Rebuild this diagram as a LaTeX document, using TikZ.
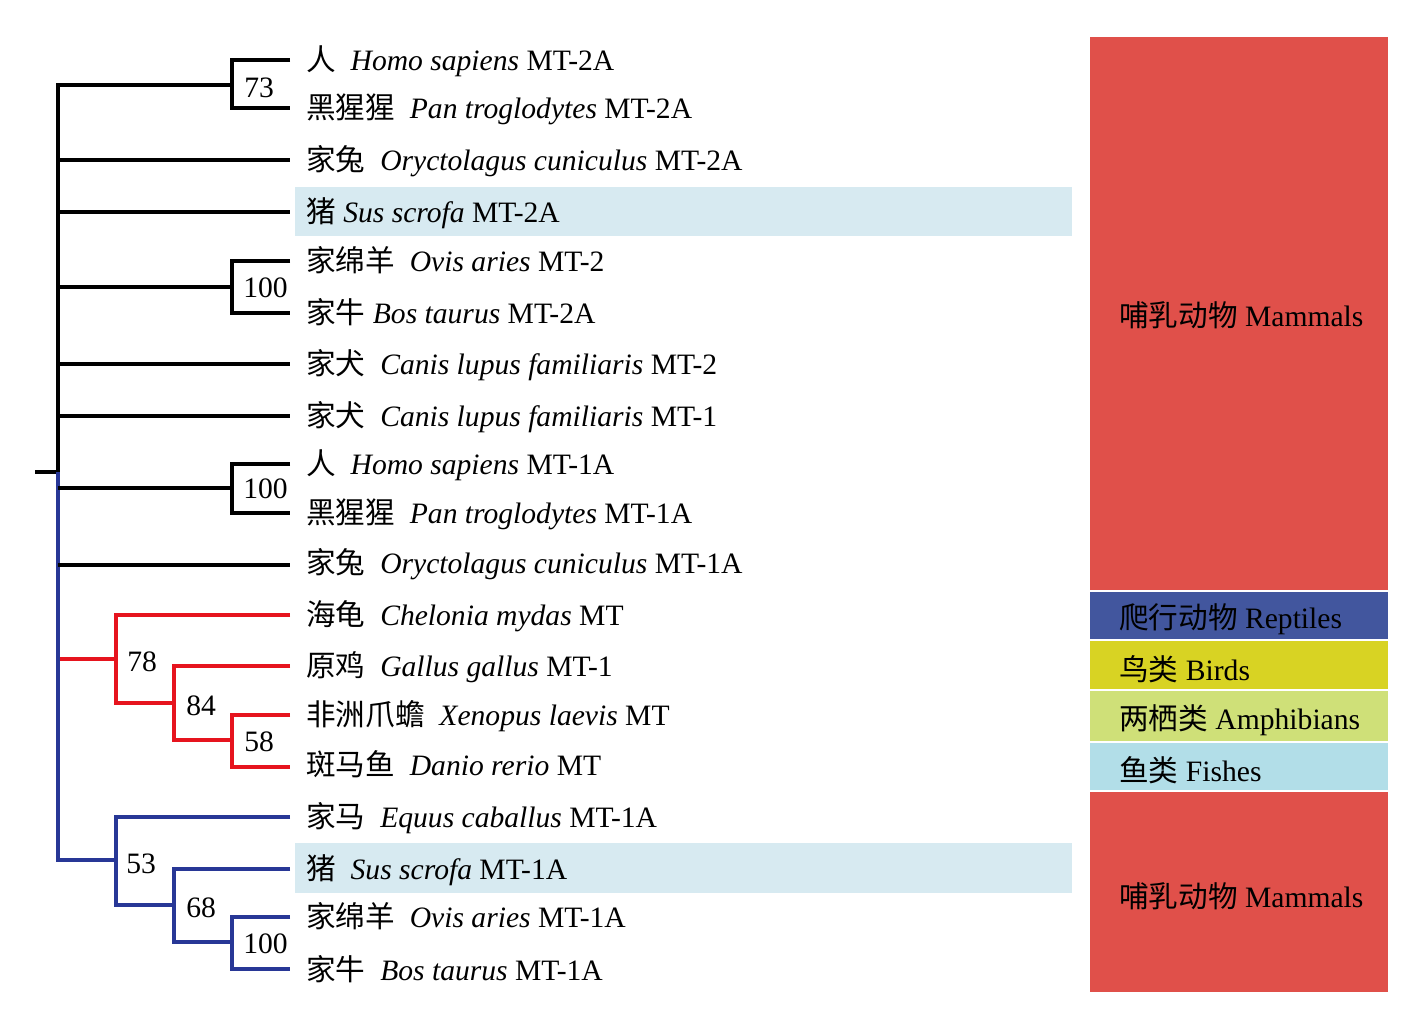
\documentclass[tikz,border=0pt]{standalone}
\usepackage{fontspec}
\setmainfont{Liberation Serif}
\newfontfamily\cjk{Noto Sans CJK SC}
\definecolor{treered}{RGB}{230,20,30}
\definecolor{treeblue}{RGB}{40,55,150}
\definecolor{mamm}{RGB}{224,80,74}
\definecolor{rept}{RGB}{66,86,158}
\definecolor{bird}{RGB}{216,211,35}
\definecolor{amph}{RGB}{207,224,120}
\definecolor{fish}{RGB}{178,222,232}
\definecolor{hl}{RGB}{215,234,241}
\newcommand{\dsp}{\hspace{0.5em}}
\begin{document}
\begin{tikzpicture}[x=0.75pt,y=-0.75pt,
  txt/.style={font=\fontsize{22.2pt}{26pt}\selectfont, inner sep=0pt, anchor=base west},
  boot/.style={font=\fontsize{22.2pt}{26pt}\selectfont, inner sep=0pt, anchor=west},
  blk/.style={line width=3.4pt, black},
  redb/.style={line width=3.4pt, treered},
  blub/.style={line width=3.4pt, treeblue}]
\useasboundingbox (0,0) rectangle (1422,1021);
% highlight bars
\fill[hl] (295,187) rectangle (1072,236);
\fill[hl] (295,843) rectangle (1072,893);
% group column
\fill[mamm] (1090,37) rectangle (1388,590);
\fill[rept] (1090,592) rectangle (1388,639);
\fill[bird] (1090,641) rectangle (1388,689);
\fill[amph] (1090,691) rectangle (1388,741);
\fill[fish] (1090,743) rectangle (1388,790);
\fill[mamm] (1090,792) rectangle (1388,992);
\node[txt] (g1) at (1119,326) {{\cjk 哺乳动物} Mammals};
\node[txt] (g2) at (1119,628) {{\cjk 爬行动物} Reptiles};
\node[txt] (g3) at (1119,680) {{\cjk 鸟类} Birds};
\node[txt] (g4) at (1119,729) {{\cjk 两栖类} Amphibians};
\node[txt] (g5) at (1119,781) {{\cjk 鱼类} Fishes};
\node[txt] (g6) at (1119,907) {{\cjk 哺乳动物} Mammals};
% leaf labels
\node[txt] (l1) at (306,70) {{\cjk 人}\dsp\textit{Homo sapiens} MT-2A};
\node[txt] (l2) at (306,118) {{\cjk 黑猩猩}\dsp\textit{Pan troglodytes} MT-2A};
\node[txt] (l3) at (306,170) {{\cjk 家兔}\dsp\textit{Oryctolagus cuniculus} MT-2A};
\node[txt] (l4) at (306,222) {{\cjk 猪} \textit{Sus scrofa} MT-2A};
\node[txt] (l5) at (306,271) {{\cjk 家绵羊}\dsp\textit{Ovis aries} MT-2};
\node[txt] (l6) at (306,323) {{\cjk 家牛} \textit{Bos taurus} MT-2A};
\node[txt] (l7) at (306,374) {{\cjk 家犬}\dsp\textit{Canis lupus familiaris} MT-2};
\node[txt] (l8) at (306,426) {{\cjk 家犬}\dsp\textit{Canis lupus familiaris} MT-1};
\node[txt] (l9) at (306,474) {{\cjk 人}\dsp\textit{Homo sapiens} MT-1A};
\node[txt] (l10) at (306,523) {{\cjk 黑猩猩}\dsp\textit{Pan troglodytes} MT-1A};
\node[txt] (l11) at (306,573) {{\cjk 家兔}\dsp\textit{Oryctolagus cuniculus} MT-1A};
\node[txt] (l12) at (306,625) {{\cjk 海龟}\dsp\textit{Chelonia mydas} MT};
\node[txt] (l13) at (306,676) {{\cjk 原鸡}\dsp\textit{Gallus gallus} MT-1};
\node[txt] (l14) at (306,725) {{\cjk 非洲爪蟾}\dsp\textit{Xenopus laevis} MT};
\node[txt] (l15) at (306,775) {{\cjk 斑马鱼}\dsp\textit{Danio rerio} MT};
\node[txt] (l16) at (306,827) {{\cjk 家马}\dsp\textit{Equus caballus} MT-1A};
\node[txt] (l17) at (306,879) {{\cjk 猪}\dsp\textit{Sus scrofa} MT-1A};
\node[txt] (l18) at (306,927) {{\cjk 家绵羊}\dsp\textit{Ovis aries} MT-1A};
\node[txt] (l19) at (306,980) {{\cjk 家牛}\dsp\textit{Bos taurus} MT-1A};
% leaf tips
\coordinate (e1) at (290,60);
\coordinate (e2) at (290,108);
\coordinate (e3) at (290,160);
\coordinate (e4) at (290,212);
\coordinate (e5) at (290,261);
\coordinate (e6) at (290,313);
\coordinate (e7) at (290,364);
\coordinate (e8) at (290,416);
\coordinate (e9) at (290,464);
\coordinate (e10) at (290,513);
\coordinate (e11) at (290,565);
\coordinate (e12) at (290,615);
\coordinate (e13) at (290,666);
\coordinate (e14) at (290,715);
\coordinate (e15) at (290,767);
\coordinate (e16) at (290,817);
\coordinate (e17) at (290,869);
\coordinate (e18) at (290,917);
\coordinate (e19) at (290,969);
% internal nodes
\coordinate (r0) at (35,472);
\coordinate (r) at (58,472);
\coordinate (j73) at (232,85);
\coordinate (ja) at (232,287);
\coordinate (jb) at (232,488);
\coordinate (j78) at (116,659);
\coordinate (j84) at (174,703);
\coordinate (j58) at (232,740);
\coordinate (j53) at (116,860);
\coordinate (j68) at (174,905);
\coordinate (jc) at (232,942);
% black part
\draw[blk] (r0) -- (r);
\draw[blk] (r) -- (r |- j73) -- (j73);
\draw[blk] (e1) -| (j73) |- (e2);
\draw[blk] (r |- e3) -- (e3);
\draw[blk] (r |- e4) -- (e4);
\draw[blk] (r |- ja) -- (ja);
\draw[blk] (e5) -| (ja) |- (e6);
\draw[blk] (r |- e7) -- (e7);
\draw[blk] (r |- e8) -- (e8);
\draw[blk] (e9) -| (jb) |- (e10);
% red part
\draw[redb] (r |- j78) -- (j78);
\draw[redb] (e12) -| (j78) |- (j84);
\draw[redb] (e13) -| (j84) |- (j58);
\draw[redb] (e14) -| (j58) |- (e15);
% blue part
\draw[blub] (r) |- (j53);
\draw[blub] (e16) -| (j53) |- (j68);
\draw[blub] (e17) -| (j68) |- (jc);
\draw[blub] (e18) -| (jc) |- (e19);
% black branches leaving the blue trunk
\draw[blk] (r |- jb) -- (jb);
\draw[blk] (r |- e11) -- (e11);
% bootstrap values
\node[boot] (b73) at (244,88) {73};
\node[boot] (ba) at (243,288) {100};
\node[boot] (bb) at (243,489) {100};
\node[boot] (b78) at (127,662) {78};
\node[boot] (b84) at (186,706) {84};
\node[boot] (b58) at (244,742) {58};
\node[boot] (b53) at (126,864) {53};
\node[boot] (b68) at (186,908) {68};
\node[boot] (bc) at (243,944) {100};
\end{tikzpicture}
\end{document}
